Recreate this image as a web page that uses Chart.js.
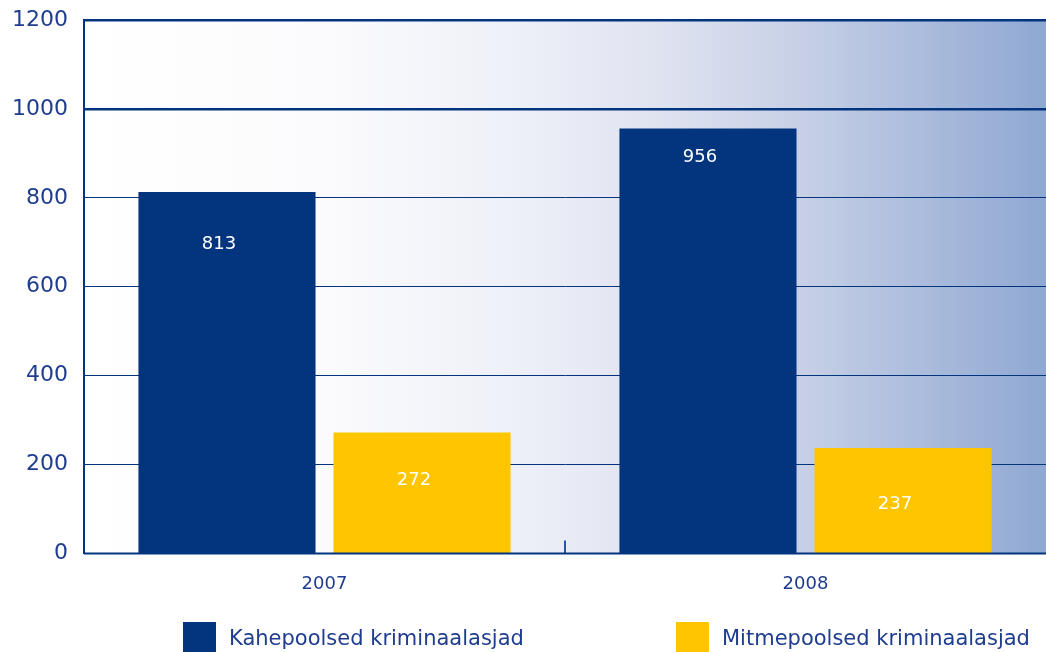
<!DOCTYPE html>
<html>
<head>
<meta charset="utf-8">
<script src="https://cdn.jsdelivr.net/npm/chart.js@4/dist/chart.umd.min.js"></script>
<style>
  html, body { margin: 0; padding: 0; background: #fff; }
  #wrap { position: relative; width: 1046px; height: 652px; overflow: hidden; }
  .leg { position: absolute; top: 622px; display: flex; align-items: center;
         font-family: "DejaVu Sans", Verdana, sans-serif; font-size: 21px; color: #1f3d8f; }
  .leg span.box { display: inline-block; width: 33px; height: 31px; margin-right: 13px; }
</style>
</head>
<body>
<div id="wrap">
  <canvas id="myChart" width="1046" height="652"></canvas>
  <div class="leg" style="left:183px"><span class="box" style="background:#03357f"></span>Kahepoolsed kriminaalasjad</div>
  <div class="leg" style="left:676px"><span class="box" style="background:#ffc600"></span>Mitmepoolsed kriminaalasjad</div>
</div>
<script>
const years = ['2007', '2008'];
const bilateral = [813, 956];
const multilateral = [272, 237];
const yTicks = [0, 200, 400, 600, 800, 1000, 1200];

const navy = '#03357f';
const yellow = '#ffc600';
const textBlue = '#1f3d8f';
const fontFamily = '"DejaVu Sans", Verdana, sans-serif';

// how far below the bar top each value is written
const labelDrop = [[52, 48], [29, 56]];

const backdrop = {
	id: 'backdrop',
	beforeDraw(chart) {
		const { ctx, chartArea: a } = chart;
		const g = ctx.createLinearGradient(a.left, 0, a.right, 0);
		g.addColorStop(0, '#ffffff');
		g.addColorStop(0.25, '#fbfbfd');
		g.addColorStop(0.45, '#eef0f8');
		g.addColorStop(0.6, '#dfe3f0');
		g.addColorStop(0.75, '#c6cfe6');
		g.addColorStop(1, '#8fa8d2');
		ctx.save();
		ctx.fillStyle = g;
		ctx.fillRect(a.left, a.top, a.right - a.left, a.bottom - a.top);
		ctx.restore();
	}
};

const extras = {
	id: 'extras',
	afterDatasetsDraw(chart) {
		const { ctx, chartArea: a, scales } = chart;
		ctx.save();
		// small divider tick between the two years
		const mid = (scales.x.getPixelForValue(0) + scales.x.getPixelForValue(1)) / 2;
		ctx.strokeStyle = '#2a55a8';
		ctx.lineWidth = 2;
		ctx.beginPath();
		ctx.moveTo(mid, a.bottom - 13);
		ctx.lineTo(mid, a.bottom);
		ctx.stroke();
		// bottom axis line
		ctx.strokeStyle = navy;
		ctx.lineWidth = 2;
		ctx.beginPath();
		ctx.moveTo(a.left, a.bottom);
		ctx.lineTo(a.right, a.bottom);
		ctx.stroke();
		// value labels inside the bars
		ctx.fillStyle = '#ffffff';
		ctx.font = '18px ' + fontFamily;
		ctx.textAlign = 'center';
		ctx.textBaseline = 'middle';
		chart.data.datasets.forEach((ds, di) => {
			chart.getDatasetMeta(di).data.forEach((bar, i) => {
				ctx.fillText(String(ds.data[i]), bar.x - 8, bar.y + labelDrop[i][di]);
			});
		});
		ctx.restore();
	}
};

new Chart(document.getElementById('myChart'), {
	type: 'bar',
	data: {
		labels: years,
		datasets: [
			{ label: 'Kahepoolsed kriminaalasjad', data: bilateral, backgroundColor: navy,
				categoryPercentage: 0.811, barPercentage: 0.908 },
			{ label: 'Mitmepoolsed kriminaalasjad', data: multilateral, backgroundColor: yellow,
				categoryPercentage: 0.811, barPercentage: 0.908 }
		]
	},
	options: {
		responsive: false,
		animation: false,
		layout: { padding: { top: 20, right: 0, bottom: 45, left: 0 } },
		plugins: { legend: { display: false }, tooltip: { enabled: false } },
		scales: {
			x: {
				grid: { display: false },
				border: { display: false },
				ticks: { color: textBlue, font: { family: fontFamily, size: 18 }, padding: 12 }
			},
			y: {
				min: 0, max: 1200,
				afterBuildTicks(axis) { axis.ticks = yTicks.map(v => ({ value: v })); },
				afterFit(axis) { axis.width = 84; axis.paddingTop = 0; axis.paddingBottom = 0; },
				grid: {
					color: navy,
					lineWidth: ctx => (ctx.tick && ctx.tick.value >= 1000 ? 2.5 : 1),
					drawTicks: false
				},
				border: { display: true, color: navy, width: 2 },
				ticks: {
					color: textBlue, font: { family: fontFamily, size: 22, lineHeight: 0.5 }, padding: 16,
					callback: v => String(v)
				}
			}
		}
	},
	plugins: [backdrop, extras]
});
</script>
</body>
</html>
